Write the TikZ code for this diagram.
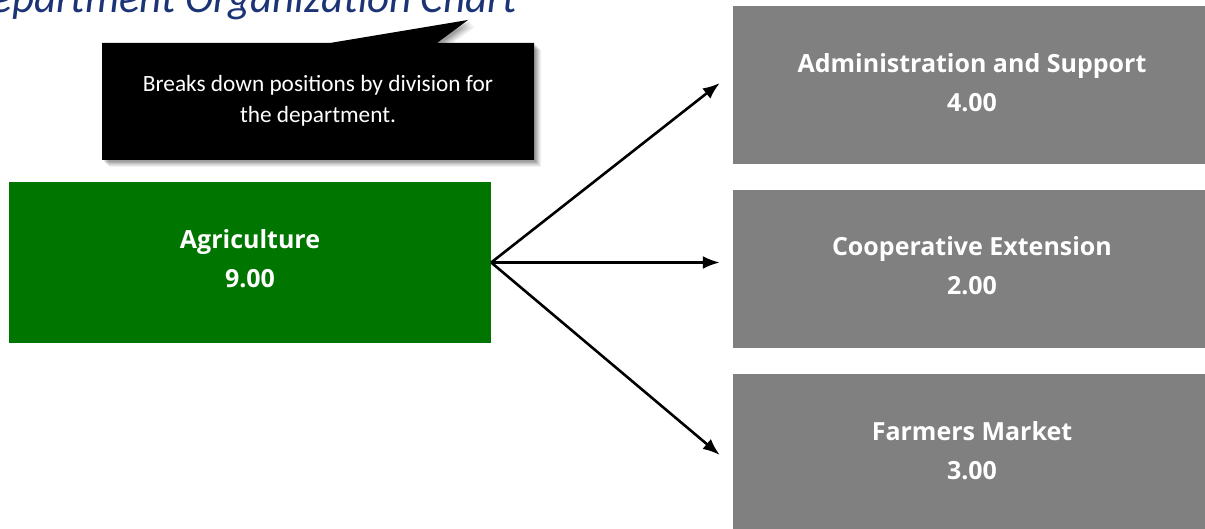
\documentclass[tikz,border=0pt]{standalone}
\usepackage{fontspec}
\setmainfont{Carlito}
\newfontfamily\boxfont{Open Sans}
\usetikzlibrary{arrows.meta}

\definecolor{agrigreen}{RGB}{0,117,0}
\definecolor{unitgray}{RGB}{128,128,128}
\definecolor{titleblue}{RGB}{28,52,118}

\tikzset{
  unitbox/.style={rectangle, inner sep=0pt},
  rootbox/.style={unitbox, fill=agrigreen, minimum width=482pt, minimum height=161pt},
  childbox/.style={unitbox, fill=unitgray, minimum width=478pt, minimum height=158pt},
  unittext/.style={align=center, text=white, inner sep=0pt,
    font=\boxfont\bfseries\fontsize{25}{39}\selectfont},
  link/.style={line width=2.6pt, -{Latex[length=17pt,width=13pt]}},
  notetext/.style={align=center, text=white, font=\fontsize{23.3}{31}\selectfont}
}

% outline of the black note with its pointer
\def\notepath{(102,43) -- (330,43) -- (468,20) -- (437,43) -- (534,43) -- (534,160) -- (102,160) -- cycle}

\begin{document}
\begin{tikzpicture}[x=1pt,y=-1pt]
\useasboundingbox (0,0) rectangle (1205,529);
\clip (0,0) rectangle (1205,529);

% page heading, running past the top and left edges
\node[anchor=base east, text=titleblue, inner sep=0pt,
      font=\itshape\fontsize{43}{43}\selectfont] (title) at (517,13)
  {Department Organization Chart};

% note with a soft shadow
\foreach \s/\o in {7/0.05,6/0.06,5/0.07,4/0.08,3/0.09,2/0.1}{
  \fill[black, opacity=\o, shift={(\s,\s)}] \notepath;
}
\fill[black] \notepath;
\node[notetext] (note) at (318,101) {Breaks down positions by division for\\the department.};

% units
\node[rootbox] (ag) at (250,262.5) {};
\node[childbox] (admin) at (972,85.5) {};
\node[childbox] (coop) at (972,269) {};
\node[childbox] (farm) at (972,453) {};

\node[unittext] (agtext) at ([yshift=4pt]ag.center) {Agriculture\\9.00};
\node[unittext] (admintext) at ([yshift=3pt]admin.center) {Administration and Support\\4.00};
\node[unittext] (cooptext) at ([yshift=3pt]coop.center) {Cooperative Extension\\2.00};
\node[unittext] (farmtext) at ([yshift=2pt]farm.center) {Farmers Market\\3.00};

% reporting lines
\draw[link] (ag.east) -- ([xshift=-13pt,yshift=2.5pt]admin.west);
\draw[link] (ag.east) -- ([xshift=-13pt,yshift=6.5pt]coop.west);
\draw[link] (ag.east) -- ([xshift=-13pt,yshift=-2pt]farm.west);
\end{tikzpicture}
\end{document}
